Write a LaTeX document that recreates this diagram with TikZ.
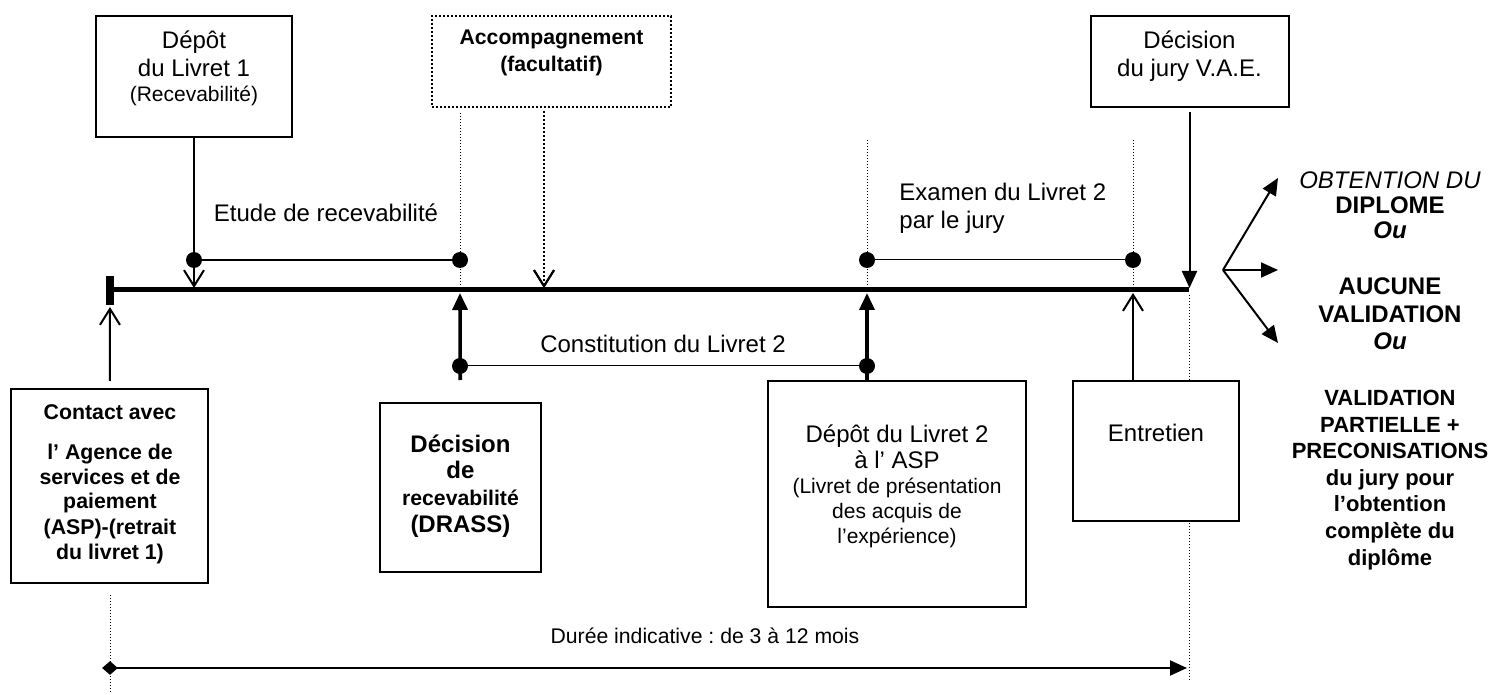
\documentclass[tikz,border=0pt]{standalone}
\usepackage{fontspec}
\setmainfont{Liberation Sans}
\usetikzlibrary{positioning, arrows.meta, shapes.geometric}
\frenchspacing

\begin{document}
\begin{tikzpicture}[x=0.5pt, y=-0.5pt]
  \tikzstyle{box} = [rectangle, draw, line width=1pt, fill=white, inner sep=0pt]
  \tikzstyle{txt} = [align=center, inner sep=0pt, font=\fontsize{12}{14}\selectfont]
  \tikzstyle{small} = [align=center, inner sep=0pt, font=\fontsize{10.5}{12.5}\selectfont]
  \tikzstyle{dot} = [circle, fill, inner sep=0pt, minimum size=8pt]
  \tikzstyle{guide} = [line width=0.5pt, densely dotted]
  \tikzstyle{openarr} = [line width=1pt, -{Straight Barb[length=8pt, width=10pt]}]
  \tikzstyle{fillarr} = [line width=1pt, -{Triangle[length=8.5pt, width=7.5pt]}]
  \tikzstyle{thickarr} = [line width=1.8pt, -{Triangle[length=8.5pt, width=7.5pt]}]

  \useasboundingbox (0,0) rectangle (1495,695);

  % points on the time line
  \coordinate (tl0) at (110,290);
  \coordinate (tlE) at (1189,290);
  \coordinate (bar0) at (110,276);
  \coordinate (bar1) at (110,305);

  % dotted guides (behind the boxes)
  \coordinate (g1) at (460,113);
  \coordinate (g2) at (867,140);
  \coordinate (g3) at (1133,140);
  \draw[guide] (g1) -- (g1 |- tl0);
  \draw[guide] (g2) -- (g2 |- tl0);
  \draw[guide] (g3) -- (g3 |- tl0);
  \coordinate (g4) at (1189,295);
  \coordinate (g5) at (1189,682);
  \draw[guide] (g4) -- (g5);
  \coordinate (g6) at (110,595);
  \coordinate (g7) at (110,693);
  \draw[guide] (g6) -- (g7);

  % boxes
  \node[box, minimum width=98pt, minimum height=60.5pt] (dep1) at (194,76.5) {};
  \node[box, densely dotted, minimum width=119.5pt, minimum height=45.5pt] (accomp) at (551.5,61.5) {};
  \node[box, minimum width=99pt, minimum height=45.5pt] (jury) at (1189.5,61.5) {};
  \node[box, minimum width=98.5pt, minimum height=97pt] (contact) at (109.5,486) {};
  \node[box, minimum width=80.5pt, minimum height=84.5pt] (recev) at (460.5,487.5) {};
  \node[box, minimum width=129pt, minimum height=113pt] (dep2) at (897,494) {};
  \node[box, minimum width=83pt, minimum height=70pt] (entretien) at (1156,451) {};

  % texts (base = last line)
  \node[txt, anchor=base] (dep1t) at (194,77) {Dépôt\\du Livret 1};
  \node[small, anchor=base] (dep1s) at (194,102) {(Recevabilité)};
  \node[txt, font=\fontsize{10.6}{13.5}\selectfont\bfseries, anchor=base] (accompt) at (551.5,72) {Accompagnement\\(facultatif)};
  \node[txt, anchor=base] (juryt) at (1189.5,77) {Décision\\du jury V.A.E.};
  \node[txt, anchor=base] (etude) at (326,222) {Etude de recevabilité};
  \node[txt, align=left, anchor=base west] (examen) at (899,229) {Examen du Livret 2\\par le jury};
  \node[txt, anchor=base] (constit) at (663,353) {Constitution du Livret 2};
  \node[txt, font=\fontsize{10.65}{12.5}\selectfont\bfseries, anchor=base] (contactt) at (110,420) {Contact avec};
  \node[txt, font=\fontsize{10.65}{12.5}\selectfont\bfseries, anchor=base] (contacts) at (110,559) {l’ Agence de\\services et de\\paiement\\(ASP)-(retrait\\du livret 1)};
  \node[txt, font=\fontsize{12}{13.3}\selectfont\bfseries, anchor=base] (recevt) at (460.5,532) {Décision\\de\\{\fontsize{10.6}{13.3}\selectfont recevabilité}\\(DRASS)};
  \node[txt, font=\fontsize{12}{13}\selectfont, anchor=base] (dep2t) at (897,468) {Dépôt du Livret 2\\à l’ ASP};
  \node[small, anchor=base] (dep2s) at (897,543) {(Livret de présentation\\des acquis de\\l’expérience)};
  \node[txt, anchor=base] (entretient) at (1156,442) {Entretien};
  \node[small, font=\fontsize{10.6}{12.5}\selectfont, anchor=base] (duree) at (705,643) {Durée indicative : de 3 à 12 mois};

  % outcomes
  \node[txt, font=\fontsize{12}{12.5}\selectfont, anchor=base] (res1) at (1390,239) {\textit{OBTENTION DU}\\\textbf{DIPLOME}\\\textbf{\textit{Ou}}};
  \node[txt, font=\fontsize{12}{13.75}\selectfont\bfseries, anchor=base] (res2) at (1390,350) {AUCUNE\\VALIDATION\\\textit{Ou}};
  \node[txt, font=\fontsize{11}{13.3}\selectfont\bfseries, anchor=base] (res3) at (1390,565) {VALIDATION\\PARTIELLE +\\PRECONISATIONS\\du jury pour\\l’obtention\\complète du\\diplôme};

  % time line
  \draw[line width=2.5pt] (tl0) -- (tlE);
  \draw[line width=4pt] (bar0) -- (bar1);

  % dots
  \node[dot] (d1) at (194,260) {};
  \node[dot] (d2) at (460,260) {};
  \node[dot] (d3) at (460,366) {};
  \node[dot] (d4) at (867,366) {};
  \node[dot] (d5) at (867,260) {};
  \node[dot] (d6) at (1133,260) {};

  % arrows to the time line
  \coordinate (a1) at (194,288);
  \draw[openarr] (dep1) -- (a1);
  \draw[line width=1pt] (d1) -- (d2);
  \coordinate (acc0) at (544,111);
  \coordinate (acc1) at (544,288);
  \draw[openarr, densely dotted] (acc0) -- (acc1);
  \draw[openarr, solid] (acc1) ++(0,-1) -- (acc1);
  \coordinate (j1) at (1189.5,288);
  \draw[fillarr, shorten <=2pt] (jury) -- (j1);
  \draw[line width=0.5pt] (d5) -- (d6);

  % arrows from below
  \coordinate (c1) at (110,307);
  \draw[openarr, shorten <=3.5pt] (contact) -- (c1);
  \coordinate (u1) at (460,293);
  \draw[thickarr, shorten <=11pt] (recev) -- (u1);
  \coordinate (u2) at (867,293);
  \draw[thickarr] (dep2.north -| u2) -- (u2);
  \draw[line width=0.5pt] (d3) -- (d4);
  \coordinate (e1) at (1133,293);
  \draw[openarr] (entretien.north -| e1) -- (e1);

  % outcome fan
  \coordinate (f0) at (1223,270);
  \coordinate (f1) at (1278,178);
  \coordinate (f2) at (1278,270);
  \coordinate (f3) at (1278,343);
  \foreach \t in {f1,f2,f3}
    \draw[fillarr] (f0) -- (\t);

  % overall duration
  \node[diamond, fill, inner sep=0pt, minimum width=8pt, minimum height=7pt] (dstart) at (110,668) {};
  \coordinate (dend) at (1187,668);
  \draw[fillarr] (dstart.center) -- (dend);
\end{tikzpicture}
\end{document}
